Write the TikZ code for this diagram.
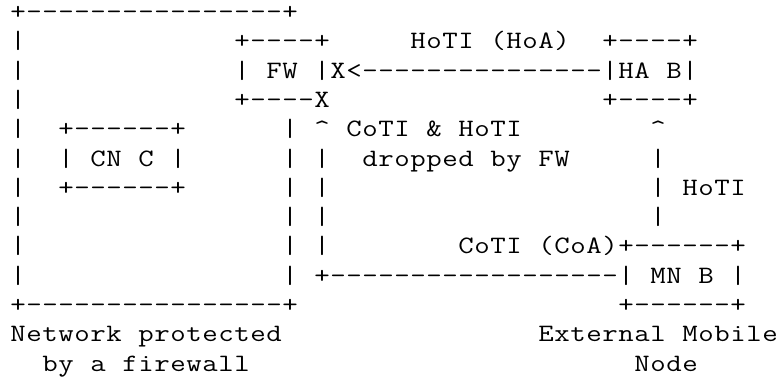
\documentclass[tikz,border=0pt]{standalone}
\usepackage{graphicx}
\makeatletter
\def\gridmark{GRIDMARK}
\newcommand\gridstr[1]{\gridloop#1\gridmark}
\def\gridloop#1{\ifx#1\gridmark\else\makebox[16pt]{\scalebox{1.2}[1]{#1}}\expandafter\gridloop\fi}
\makeatother
\tikzset{
  cellnode/.style={anchor=base west, inner sep=0pt, outer sep=0pt,
    font=\fontfamily{lmtt}\fontseries{m}\fontshape{n}\fontsize{25}{29.3}\selectfont}
}
\newcommand\cell[4]{\node[cellnode] (#1) at ({10+16*#2},{-19.5-29.3*#3}) {\gridstr{#4}};}
\begin{document}
\begin{tikzpicture}[x=1pt,y=1pt]
\path[fill=white,use as bounding box] (0,0) rectangle (779,-378);
% row 0
\cell{netTop}{0}{0}{+----------------+}
% row 1
\cell{netL1}{0}{1}{|}
\cell{fwTop}{14}{1}{+----+}
\cell{hotiHoA}{25}{1}{HoTI~(HoA)}
\cell{haTop}{37}{1}{+----+}
% row 2
\cell{netL2}{0}{2}{|}
\cell{fwMid}{14}{2}{|~FW~|X<---------------|HA~B|}
% row 3
\cell{netL3}{0}{3}{|}
\cell{fwBot}{14}{3}{+----X}
\cell{haBot}{37}{3}{+----+}
% row 4
\cell{netL4}{0}{4}{|}
\cell{cnTop}{3}{4}{+------+}
\cell{dropA}{17}{4}{|~\textasciicircum~CoTI~\&~HoTI}
\cell{hotiUp}{40}{4}{\textasciicircum}
% row 5
\cell{netL5}{0}{5}{|}
\cell{cnMid}{3}{5}{|~CN~C~|}
\cell{dropB}{17}{5}{|~|~~dropped~by~FW}
\cell{hotiV5}{40}{5}{|}
% row 6
\cell{netL6}{0}{6}{|}
\cell{cnBot}{3}{6}{+------+}
\cell{netV6}{17}{6}{|~|}
\cell{hotiLbl}{40}{6}{|~HoTI}
% row 7
\cell{netL7}{0}{7}{|}
\cell{netV7}{17}{7}{|~|}
\cell{hotiV7}{40}{7}{|}
% row 8
\cell{netL8}{0}{8}{|}
\cell{netV8}{17}{8}{|~|}
\cell{cotiLbl}{28}{8}{CoTI~(CoA)+------+}
% row 9
\cell{netL9}{0}{9}{|}
\cell{cotiLine}{17}{9}{|~+------------------|~MN~B~|}
% row 10
\cell{netBot}{0}{10}{+----------------+}
\cell{mnBot}{38}{10}{+------+}
% rows 11-12
\cell{capNetA}{0}{11}{Network~protected}
\cell{capMnA}{33}{11}{External~Mobile}
\cell{capNetB}{2}{12}{by~a~firewall}
\cell{capMnB}{39}{12}{Node}
\end{tikzpicture}
\end{document}
